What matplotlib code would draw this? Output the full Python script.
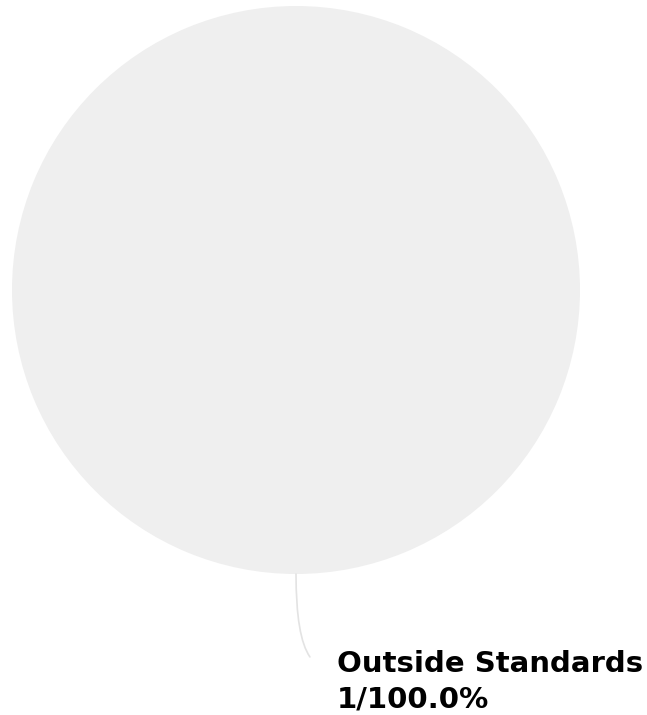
import numpy as np
import matplotlib
matplotlib.use("Agg")
import matplotlib.pyplot as plt

# single category pie
labels = ["Outside Standards"]
counts = [1]
colors = ["#efefef"]

W, H = 647, 715
fig = plt.figure(figsize=(W / 100, H / 100), dpi=100)

# pie centre (296, 290) px, radius 284 px
cx, cy, r = 296, 290, 284
ax = fig.add_axes([(cx - r) / W, 1 - (cy + r) / H, 2 * r / W, 2 * r / H])

wedges, _ = ax.pie(counts, colors=colors, startangle=90, counterclock=True,
                   radius=1, wedgeprops=dict(linewidth=0))
ax.set_xlim(-1, 1)
ax.set_ylim(-1, 1)
ax.set_aspect("equal")
ax.axis("off")

total = sum(counts)
for w, lab, n in zip(wedges, labels, counts):
    ang = np.deg2rad((w.theta1 + w.theta2) / 2)
    x0, y0 = np.cos(ang), np.sin(ang)
    # connector from wedge edge towards the label
    ax.annotate("", xy=(x0, y0), xytext=(x0 + 0.049, y0 * 1.292),
                arrowprops=dict(arrowstyle="-", color="#e3e3e3", lw=1.2,
                                shrinkA=0, shrinkB=0,
                                connectionstyle="angle3,angleA=125,angleB=90"),
                annotation_clip=False)
    ax.text(x0 + 0.144, y0 * 1.266, f"{lab}\n{n}/{n / total * 100:.1f}%",
            ha="left", va="top", fontsize=21, fontweight="bold",
            color="black", linespacing=1.35, clip_on=False)

fig.savefig("out.png", dpi=100)
